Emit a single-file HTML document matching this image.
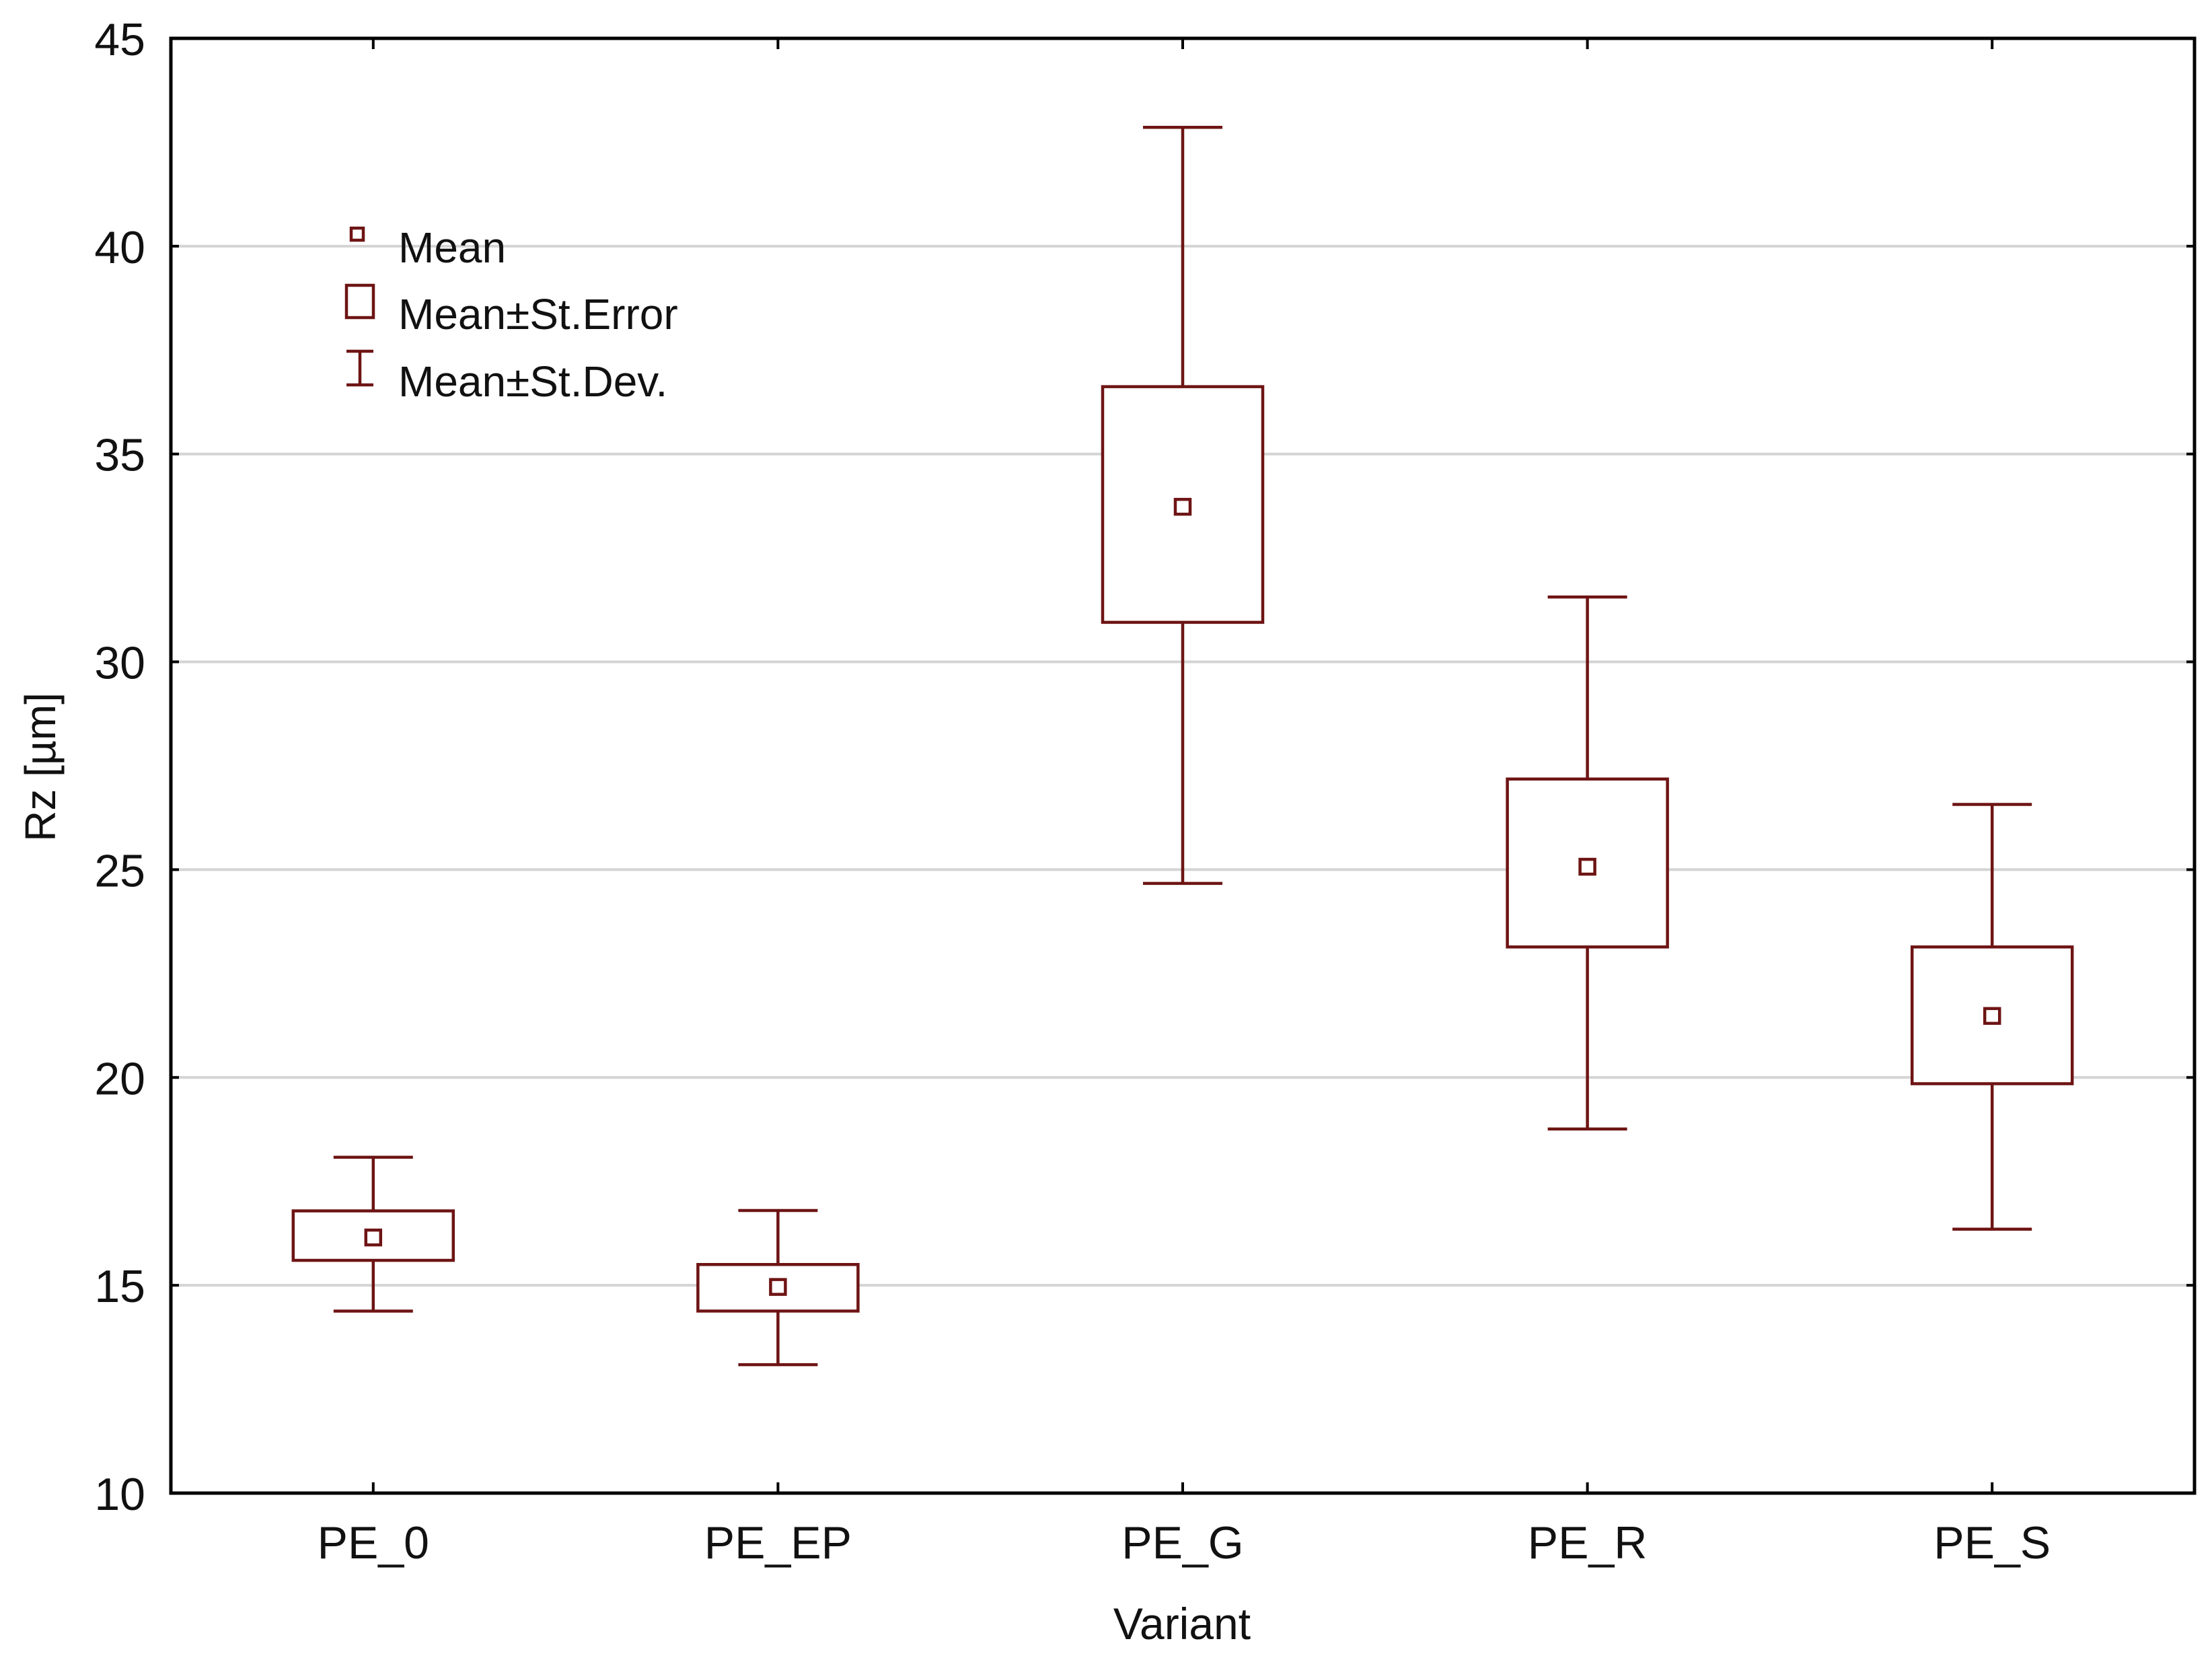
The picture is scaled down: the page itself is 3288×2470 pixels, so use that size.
<!DOCTYPE html>
<html><head><meta charset="utf-8"><style>
html,body{margin:0;padding:0;background:#fff;}
svg{display:block;}
text{font-family:"Liberation Sans",Arial,sans-serif;fill:#111;}
</style></head><body>
<svg id="chart" width="3288" height="2470" viewBox="0 0 3288 2470" xmlns="http://www.w3.org/2000/svg"></svg>
<script>
const categories = ["PE_0","PE_EP","PE_G","PE_R","PE_S"];
const meanVals = [16.15, 14.96, 33.73, 25.07, 21.48];
const seHigh = [16.79, 15.5, 36.62, 27.18, 23.14];
const seLow = [15.6, 14.38, 30.95, 23.14, 19.85];
const sdHigh = [18.08, 16.8, 42.86, 31.56, 26.57];
const sdLow = [14.38, 13.09, 24.67, 18.76, 16.35];
const yTicks = [10, 15, 20, 25, 30, 35, 40, 45];

const NS = "http://www.w3.org/2000/svg";
const svg = document.getElementById("chart");
const L = 254, R = 3262, T = 57, B = 2219;
const yMin = 10, yMax = 45;
const C = "#6e1414";
function y(v){ return B - (v - yMin) / (yMax - yMin) * (B - T); }
function x(i){ return L + (R - L) / categories.length * (i + 0.5); }
function el(tag, attrs, parent){
  const e = document.createElementNS(NS, tag);
  for (const k in attrs) e.setAttribute(k, attrs[k]);
  (parent || svg).appendChild(e);
  return e;
}

// gridlines + y ticks
yTicks.forEach(v => {
  if (v > yMin && v < yMax) {
    const g = el("line", {x1: L, x2: R, y1: y(v), y2: y(v), stroke: "#d4d4d4", "stroke-width": 4});
    
    
  }
  const tk = el("line", {x1: L, x2: L + 12, y1: y(v), y2: y(v), stroke: "#000", "stroke-width": 4});
  
  
  const tk2 = el("line", {x1: R - 12, x2: R, y1: y(v), y2: y(v), stroke: "#000", "stroke-width": 4});
  
  
  const t = el("text", {x: 216, y: y(v) + 25, "text-anchor": "end", "font-size": 68});
  t.textContent = v;
  
  
});

// boxes
categories.forEach((c, i) => {
  const cx = x(i);
  const g = el("g", {stroke: C, fill: "none", "stroke-width": 4.5});
  
  
  el("line", {x1: cx, x2: cx, y1: y(sdHigh[i]), y2: y(seHigh[i])}, g);
  el("line", {x1: cx, x2: cx, y1: y(seLow[i]), y2: y(sdLow[i])}, g);
  el("line", {x1: cx - 59, x2: cx + 59, y1: y(sdHigh[i]), y2: y(sdHigh[i])}, g);
  el("line", {x1: cx - 59, x2: cx + 59, y1: y(sdLow[i]), y2: y(sdLow[i])}, g);
  el("rect", {x: cx - 119, y: y(seHigh[i]), width: 238, height: y(seLow[i]) - y(seHigh[i]), fill: "#fff"}, g);
  el("rect", {x: cx - 11, y: y(meanVals[i]) - 11, width: 22, height: 22}, g);
  // x ticks
  const tb = el("line", {x1: cx, x2: cx, y1: B, y2: B - 16, stroke: "#000", "stroke-width": 4});
  
  
  const tt = el("line", {x1: cx, x2: cx, y1: T, y2: T + 16, stroke: "#000", "stroke-width": 4});
  
  
  const lbl = el("text", {x: cx, y: 2316, "text-anchor": "middle", "font-size": 68});
  lbl.textContent = c;
  
  
});

// frame
const fr = el("rect", {x: L, y: T, width: R - L, height: B - T, fill: "none", stroke: "#000", "stroke-width": 5});


</script>
<svg style="position:absolute;left:0;top:0" width="3288" height="2470">
  <g stroke="#6e1414" fill="none" stroke-width="4.5">
    <rect x="522" y="339" width="18" height="18"/>
    <rect x="515" y="424" width="40" height="48"/>
    <g>
      <line x1="535" x2="535" y1="522" y2="572"/>
      <line x1="515" x2="555" y1="522" y2="522"/>
      <line x1="515" x2="555" y1="572" y2="572"/>
    </g>
  </g>
  <g font-family="Liberation Sans, Arial, sans-serif" font-size="64" fill="#111">
    <text x="592" y="390">Mean</text>
    <text x="592" y="489">Mean±St.Error</text>
    <text x="592" y="589">Mean±St.Dev.</text>
  </g>
  <text transform="translate(82,1140) rotate(-90)" text-anchor="middle" font-family="Liberation Sans, Arial, sans-serif" font-size="64" fill="#111">Rz [µm]</text>
  <text x="1757" y="2436" text-anchor="middle" font-family="Liberation Sans, Arial, sans-serif" font-size="66" fill="#111">Variant</text>
</svg>
</body></html>
